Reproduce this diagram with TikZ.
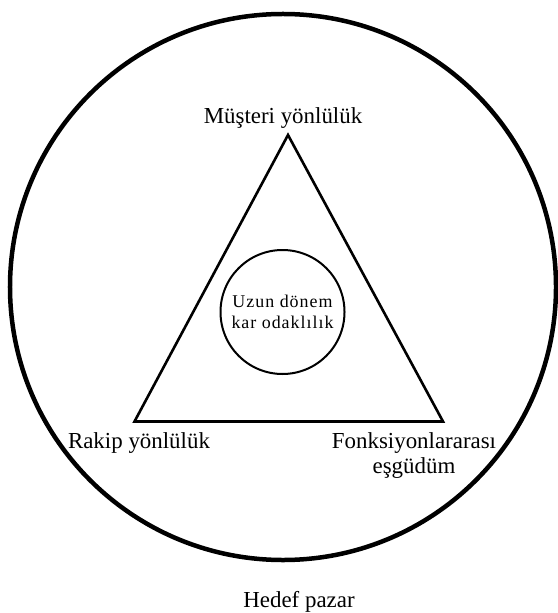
\documentclass[tikz,border=0pt]{standalone}
\usepackage{fontspec}
\setmainfont{Liberation Serif}
\newfontfamily\corefont[LetterSpace=5.5]{Liberation Serif}
\begin{document}
\begin{tikzpicture}[x=1bp,y=-1bp,
  outerring/.style={draw, circle, line width=4.5bp, minimum size=546bp, inner sep=0pt},
  corering/.style={draw, circle, line width=2bp, minimum size=124bp, inner sep=0pt,
    align=center, font=\corefont\fontsize{18}{21}\selectfont},
  corner/.style={inner sep=0pt, anchor=base, align=center, font=\fontsize{23}{25}\selectfont},
  edge/.style={line width=2.6bp, line join=miter}]
\useasboundingbox (0,0) rectangle (558,613);

% target market
\node[outerring] (market) at (283,287) {};

% triangle of the three components
\coordinate (top) at (288,135);
\coordinate (left) at (134.5,421.5);
\coordinate (right) at (443,421.5);
\draw[edge] (top) -- (left) -- (right) -- cycle;

% central focus
\node[corering] (core) at (282.5,312) {Uzun dönem\\kar odaklılık};

% labels (base anchor of a two-line node sits on its last line)
\node[corner] (customer) at (283,123.5) {Müşteri yönlülük};
\node[corner] (competitor) at (139,448) {Rakip yönlülük};
\node[corner] (coordination) at (414,473) {Fonksiyonlararası\\eşgüdüm};
\node[corner] (targetlabel) at (299,607) {Hedef pazar};
\end{tikzpicture}
\end{document}
